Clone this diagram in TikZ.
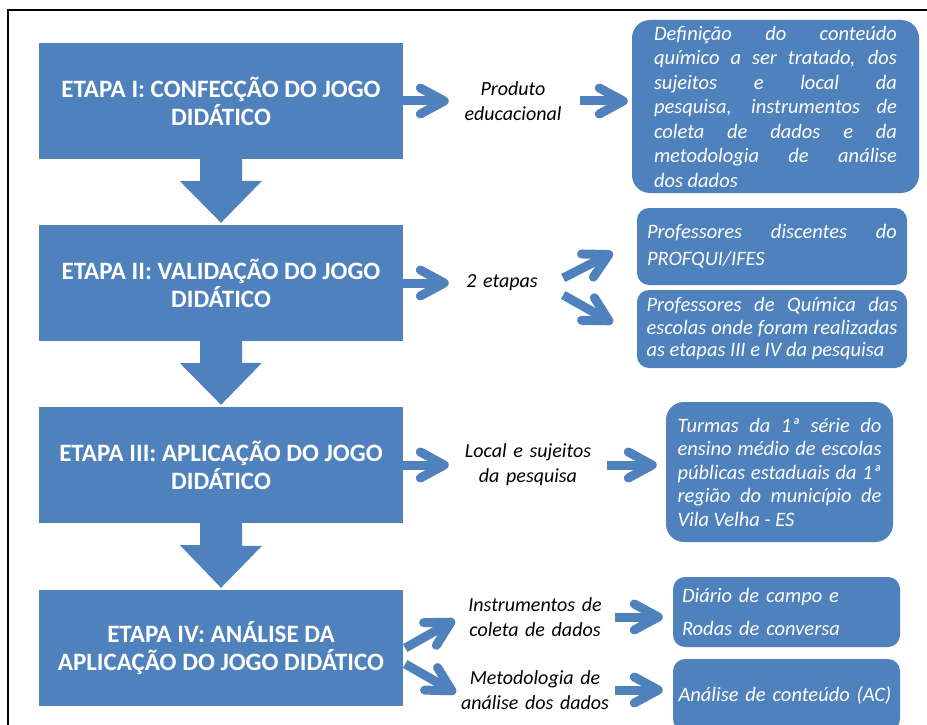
\documentclass[tikz,border=0pt]{standalone}
\usepackage{fontspec}
\setmainfont{Carlito}
\usepackage{tikz}
\usetikzlibrary{arrows.meta}
\definecolor{mb}{RGB}{79, 129, 189}

\tikzset{
etapa/.style = {fill = mb, minimum width = 364pt, minimum height = 116pt, inner sep = 0pt, align = center, text = white, font = \fontsize{25}{28}\selectfont\bfseries},
caixa/.style = {fill = mb, rounded corners = 12pt, inner sep = 0pt, text = white, align = justify, font = \fontsize{20.5}{24.5}\selectfont\itshape},
rotulo/.style = {inner sep = 0pt, align = center, font = \fontsize{20}{25}\selectfont\itshape},
seta/.style = {mb, line width = 9pt, -{Straight Barb[length = 24pt, width = 26pt, round]}},
}

\begin{document}
\begin{tikzpicture}[x = 1pt, y = -1pt]
\useasboundingbox (0,0) rectangle (927,725);
\draw[line width = 2pt] (927,10) -- (8,10) -- (8,725);
\node[etapa] (e1) at (221,101) {ETAPA I: CONFECÇÃO DO JOGO\\DIDÁTICO};
\node[etapa] (e2) at (221,283) {ETAPA II: VALIDAÇÃO DO JOGO\\DIDÁTICO};
\node[etapa] (e3) at (221,465) {ETAPA III: APLICAÇÃO DO JOGO\\DIDÁTICO};
\node[etapa] (e4) at (221,648) {ETAPA IV: ANÁLISE DA\\APLICAÇÃO DO JOGO DIDÁTICO};
\foreach \a/\b in {e1/e2, e2/e3, e3/e4}
{
\fill[mb] ([xshift = -21pt]\a.south) -- ++(0,22) -- ++(-20,0) -- ([yshift = 2pt]\b.north) -- ++(41,-42) -- ++(-20,0) -- ([xshift = 21pt]\a.south) -- cycle;
}
\node[rotulo, text width = 128pt] (prod) at (513,101) {Produto\\educacional};
\node[rotulo, text width = 106pt] (etap) at (502,283) {2 etapas};
\node[rotulo, text width = 158pt] (loc) at (528,465) {Local e sujeitos\\da pesquisa};
\node[rotulo, text width = 150pt] (inst) at (535,617) {Instrumentos de\\coleta de dados};
\node[rotulo, text width = 150pt] (met) at (535,690) {Metodologia de\\análise dos dados};
\node[caixa, rounded corners = 18pt, minimum width = 287pt, minimum height = 173pt, text width = 243pt] (def) at (775.5,106.5) {Definição do conteúdo\linebreak químico a ser tratado, dos\linebreak sujeitos e local da\linebreak pesquisa, instrumentos de\linebreak coleta de dados e da\linebreak metodologia de análise\linebreak dos dados};
\node[caixa, minimum width = 270pt, minimum height = 77pt, text width = 250pt, font = \fontsize{20.5}{27}\selectfont\itshape] (p1) at (772,246.5) {Professores discentes do\linebreak PROFQUI/IFES};
\node[caixa, minimum width = 270pt, minimum height = 78pt, text width = 251pt, font = \fontsize{20.5}{22.5}\selectfont\itshape] (p2) at (772,329) {Professores de Química das\linebreak escolas onde foram realizadas\linebreak as etapas III e IV da pesquisa};
\node[caixa, rounded corners = 18pt, minimum width = 227pt, minimum height = 140pt, text width = 204pt, font = \fontsize{20.5}{23.5}\selectfont\itshape] (t3) at (779.5,472) {Turmas da 1ª série do\linebreak ensino médio de escolas\linebreak públicas estaduais da 1ª\linebreak região do município de\linebreak Vila Velha - ES};
\node[caixa, align = left, minimum width = 227pt, minimum height = 70pt, text width = 209pt, font = \fontsize{20.5}{33}\selectfont\itshape] (dia) at (786.5,612) {Diário de campo e\\Rodas de conversa};
\node[caixa, align = left, minimum width = 227pt, minimum height = 72pt, text width = 216pt] (ana) at (786.5,695) {Análise de conteúdo (AC)};
\draw[seta] (e1.east) -- (prod.west);
\draw[seta, shorten < = 3pt, shorten > = 4pt] (prod.east) -- (prod.east -| def.west);
\draw[seta] (e2.east) -- (etap.west);
\draw[seta] ([xshift = 8pt, yshift = 5pt]etap.east) -- ([xshift = -24pt, yshift = -6pt]p1.west);
\draw[seta] ([xshift = 8pt, yshift = -12pt]etap.east) -- ([xshift = -24pt, yshift = 6pt]p2.west);
\draw[seta] (e3.east) -- (loc.west);
\draw[seta, shorten > = 9pt] (loc.east) -- (loc.east -| t3.west);
\draw[seta] ([xshift = 2pt]e4.east) -- ([xshift = -5pt, yshift = -3pt]inst.west);
\draw[seta] ([xshift = 2pt, yshift = -16pt]e4.east) -- ([xshift = -4pt, yshift = -3pt]met.west);
\draw[seta, shorten < = 5pt, shorten > = 10pt] (inst.east) -- (inst.east -| dia.west);
\draw[seta, shorten < = 5pt, shorten > = 10pt] (met.east) -- (met.east -| ana.west);
\end{tikzpicture}
\end{document}
